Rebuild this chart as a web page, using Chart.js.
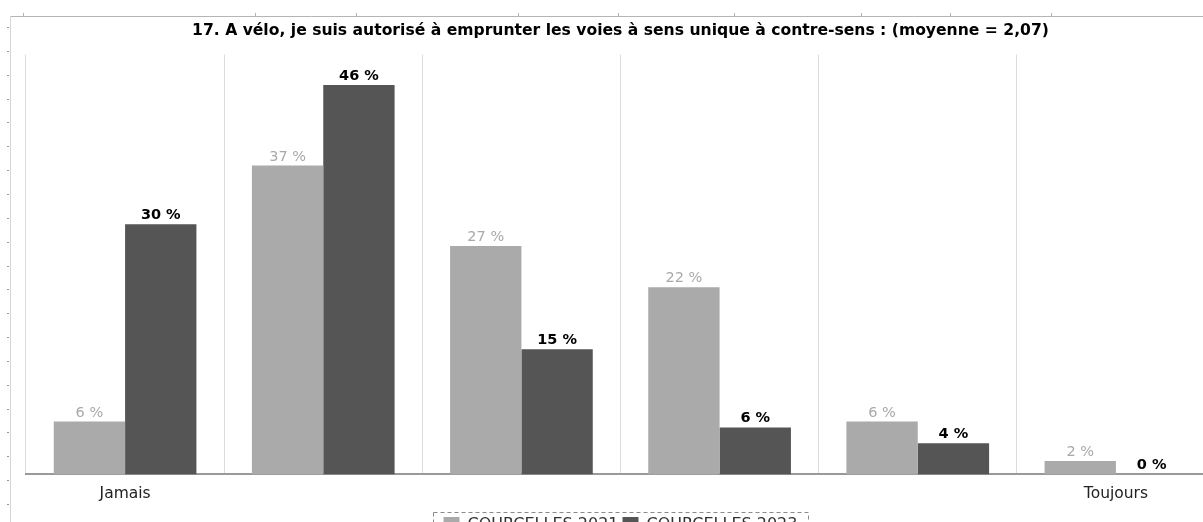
<!DOCTYPE html>
<html>
<head>
<meta charset="utf-8">
<script src="https://cdn.jsdelivr.net/npm/chart.js@4/dist/chart.umd.min.js"></script>
<style>
  html, body { margin: 0; padding: 0; background: #ffffff; overflow: hidden; width: 1203px; height: 522px; }
  #wrap { position: absolute; left: 0; top: 0; width: 1216px; height: 543px; }
</style>
</head>
<body>
<div id="wrap"><canvas id="c" width="1216" height="543"></canvas></div>
<script>
const titleText = "17. A vélo, je suis autorisé à emprunter les voies à sens unique à contre-sens : (moyenne = 2,07)";
const categories = ["Jamais", "", "", "", "", "Toujours"];
const seriesNames = ["COURCELLES 2021", "COURCELLES 2023"];
const values2021 = [6.3, 36.8, 27.2, 22.3, 6.3, 1.6];
const values2023 = [29.8, 46.4, 14.9, 5.6, 3.7, 0];
const yMax = 50;

const FONT = "'DejaVu Sans', Verdana, sans-serif";

const frameDecor = {
  id: 'frameDecor',
  afterDraw(chart) {
    const ctx = chart.ctx;
    ctx.save();
    ctx.strokeStyle = '#b5b5b5';
    ctx.lineWidth = 1;
    ctx.beginPath();
    ctx.moveTo(10, 16.5); ctx.lineTo(1216, 16.5);
    [23, 255, 356, 518, 618, 734, 861, 950, 1051].forEach(x => {
      ctx.moveTo(x + 0.5, 16.5); ctx.lineTo(x + 0.5, 13);
    });
    ctx.stroke();
    ctx.strokeStyle = '#d6d6d6';
    ctx.beginPath();
    ctx.moveTo(10.5, 16); ctx.lineTo(10.5, 546);
    ctx.stroke();
    ctx.strokeStyle = '#9a9a9a';
    ctx.beginPath();
    for (let y = 27; y < 546; y += 23.85) {
      ctx.moveTo(7, Math.round(y) + 0.5); ctx.lineTo(9, Math.round(y) + 0.5);
    }
    ctx.stroke();
    ctx.restore();
  }
};

const barLabels = {
  id: 'barLabels',
  afterDatasetsDraw(chart) {
    const ctx = chart.ctx;
    ctx.save();
    ctx.textAlign = 'center';
    ctx.textBaseline = 'alphabetic';
    chart.data.datasets.forEach((ds, di) => {
      const meta = chart.getDatasetMeta(di);
      meta.data.forEach((bar, i) => {
        const v = ds.data[i];
        if (di === 0) {
          ctx.fillStyle = '#a9a9a9';
          ctx.font = "14.5px " + FONT;
        } else {
          ctx.fillStyle = '#000000';
          ctx.font = "bold 14.5px " + FONT;
        }
        ctx.fillText(Math.round(v) + ' %', bar.x, bar.y - 5);
      });
    });
    ctx.restore();
  }
};

const legendBox = {
  id: 'legendBox',
  afterDraw(chart) {
    const lg = chart.legend;
    if (!lg || !lg.legendHitBoxes || !lg.legendHitBoxes.length) return;
    const boxes = lg.legendHitBoxes;
    const left = Math.min(...boxes.map(b => b.left)) - 11;
    const right = Math.max(...boxes.map(b => b.left + b.width)) + 10;
    const top = Math.min(...boxes.map(b => b.top)) - 5;
    const bottom = Math.max(...boxes.map(b => b.top + b.height)) + 5;
    const ctx = chart.ctx;
    ctx.save();
    ctx.strokeStyle = '#8a8a8a';
    ctx.lineWidth = 1;
    ctx.setLineDash([4, 3]);
    ctx.strokeRect(Math.round(left) + 0.5, Math.round(top) + 0.5, Math.round(right - left), Math.round(bottom - top));
    ctx.restore();
  }
};

new Chart(document.getElementById('c'), {
  type: 'bar',
  data: {
    labels: categories,
    datasets: [
      { label: seriesNames[0], data: values2021, backgroundColor: '#aaaaaa', borderWidth: 0,
        categoryPercentage: 0.72, barPercentage: 1.0 },
      { label: seriesNames[1], data: values2023, backgroundColor: '#555555', borderWidth: 0,
        categoryPercentage: 0.72, barPercentage: 1.0 }
    ]
  },
  options: {
    responsive: false,
    animation: false,
    devicePixelRatio: 1,
    layout: { padding: { left: 26, right: 1, top: 0, bottom: 0 } },
    scales: {
      x: {
        grid: { display: true, offset: true, color: '#dcdcdc', lineWidth: 1, drawTicks: false },
        border: { display: true, color: '#9a9a9a', width: 2 },
        ticks: { color: '#222222', font: { family: FONT, size: 15.5 }, padding: 10, maxRotation: 0, autoSkip: false }
      },
      y: {
        display: false,
        min: 0, max: yMax,
        grid: { display: false }
      }
    },
    plugins: {
      title: {
        display: true, text: titleText, fullSize: false,
        color: '#000000',
        font: { family: FONT, size: 15.6, weight: 'bold' },
        padding: { top: 22, bottom: 14 }
      },
      legend: {
        display: true, position: 'bottom',
        labels: {
          color: '#333333',
          font: { family: FONT, size: 16, lineHeight: 1.0 },
          boxWidth: 16, boxHeight: 16, padding: 4
        }
      },
      tooltip: { enabled: false }
    }
  },
  plugins: [frameDecor, barLabels, legendBox]
});
</script>
</body>
</html>
